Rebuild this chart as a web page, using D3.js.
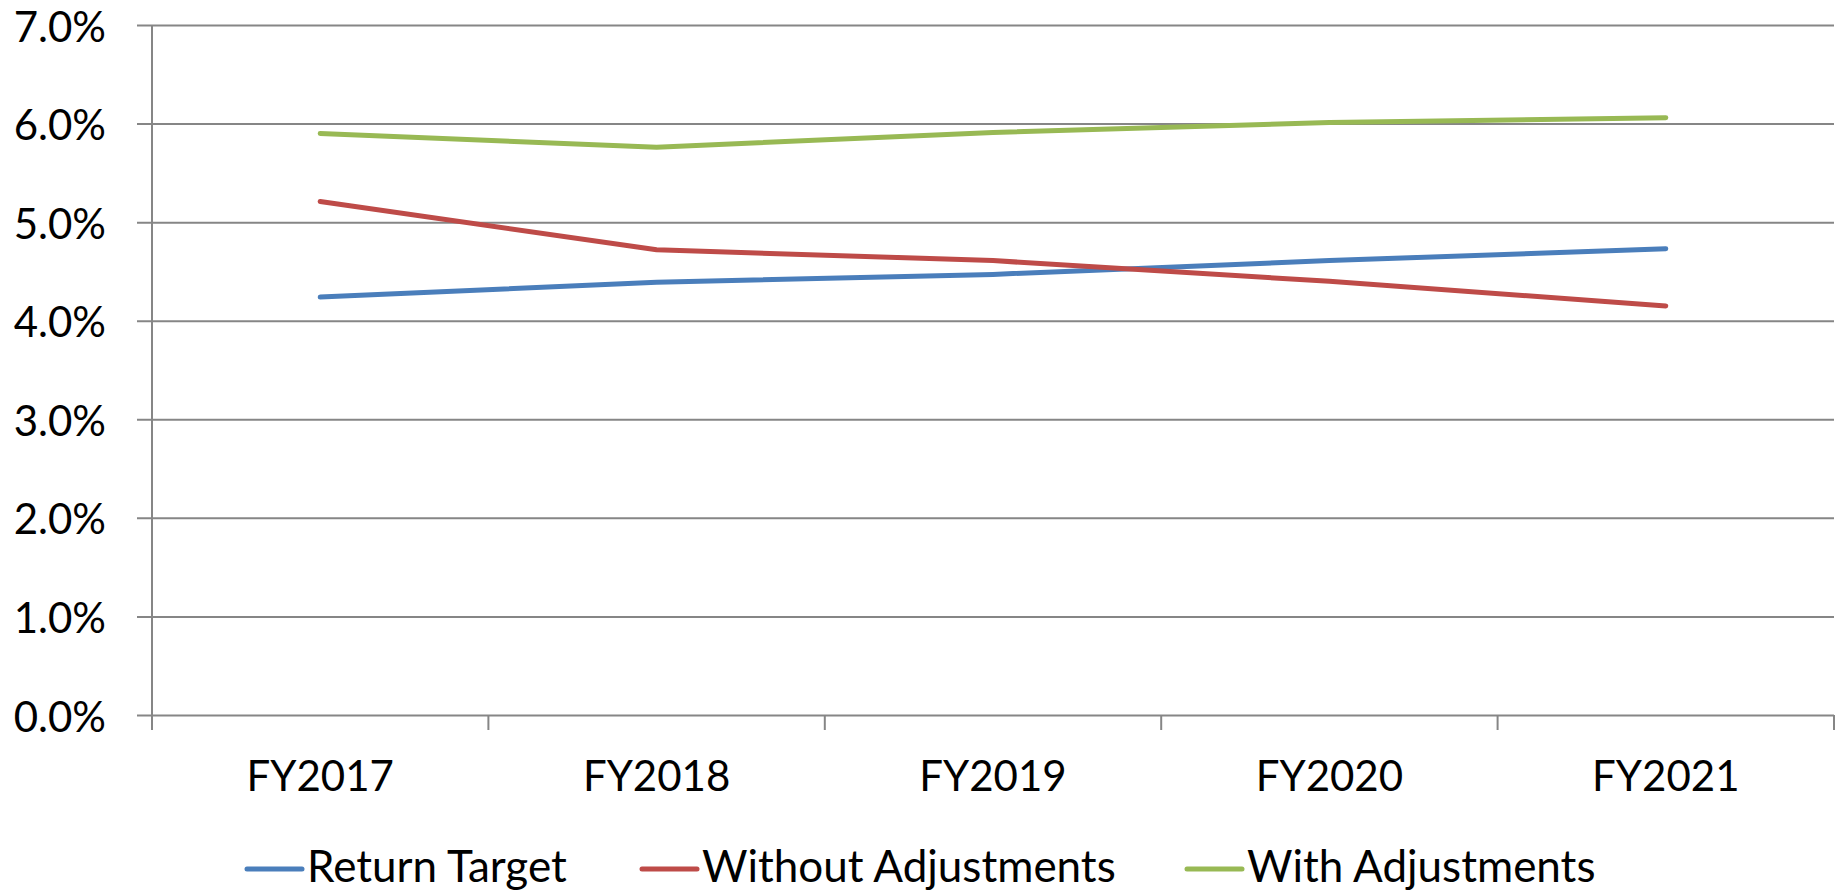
<!DOCTYPE html>
<html>
<head>
<meta charset="utf-8">
<script src="https://cdn.jsdelivr.net/npm/d3@7"></script>
<style>
  html, body { margin: 0; padding: 0; background: #fff; }
  svg { display: block; }
  text { font-family: Lato, "Open Sans", sans-serif; fill: #000; }
</style>
</head>
<body>
<svg id="chart" width="1835" height="893"></svg>
<script>
// Fiscal years on the category axis
const years = ["FY2017", "FY2018", "FY2019", "FY2020", "FY2021"];

// Rates in percent
const returnTarget       = [4.24, 4.39, 4.47, 4.61, 4.73];
const withoutAdjustments = [5.21, 4.72, 4.61, 4.40, 4.15];
const withAdjustments    = [5.90, 5.76, 5.91, 6.01, 6.06];

const seriesNames  = ["Return Target", "Without Adjustments", "With Adjustments"];
const seriesColors = ["#4A7EBB", "#BE4B48", "#98B954"];

// Value axis ticks (percent)
const yTicks = [0, 1, 2, 3, 4, 5, 6, 7];

const series = [returnTarget, withoutAdjustments, withAdjustments].map((values, i) => ({
  name: seriesNames[i],
  color: seriesColors[i],
  values: values
}));

const svg = d3.select("#chart");
const W = 1835, H = 893;
const m = { left: 152, right: 1, top: 25, bottom: 178 };
const FONT = 42;
const LEGEND_FONT = 44;
const GRID = "#868686";

const x = d3.scaleBand().domain(years).range([m.left, W - m.right]).padding(0);
const y = d3.scaleLinear().domain([0, 7]).range([H - m.bottom, m.top]);
const cx = d => x(d) + x.bandwidth() / 2;

// Horizontal gridlines with left tick stubs
const yAxis = d3.axisLeft(y)
  .tickValues(yTicks)
  .tickSize(-(W - m.right - m.left))
  .tickSizeOuter(0)
  .tickFormat(d => d3.format(".1f")(d) + "%")
  .tickPadding(0);

const gy = svg.append("g")
  .attr("transform", `translate(${m.left},0)`)
  .call(yAxis);
gy.select(".domain").remove();
gy.selectAll(".tick line")
  .attr("x1", -15)
  .attr("stroke", GRID)
  .attr("stroke-width", 2);
gy.selectAll(".tick text")
  .attr("x", 106 - m.left)
  .attr("dy", null)
  .attr("dominant-baseline", "central")
  .attr("text-anchor", "end")
  .style("font-size", FONT + "px")
  .style("font-family", "Lato, sans-serif")
  .attr("fill", "#000");

// Category axis: tick marks between categories below the zero line
const gx = svg.append("g").attr("transform", `translate(0,${y(0)})`);
const boundaries = years.map(d => x(d)).concat([x(years[years.length - 1]) + x.bandwidth()]);
gx.selectAll("line.tick")
  .data(boundaries)
  .join("line")
  .attr("class", "tick")
  .attr("x1", d => d).attr("x2", d => d)
  .attr("y1", 0).attr("y2", 15)
  .attr("stroke", GRID).attr("stroke-width", 2);
gx.selectAll("text")
  .data(years)
  .join("text")
  .attr("x", d => cx(d))
  .attr("y", 76)
  .attr("text-anchor", "middle")
  .style("font-size", FONT + "px")
  .text(d => d);

// Vertical value axis line
svg.append("line")
  .attr("x1", m.left).attr("x2", m.left)
  .attr("y1", y(7)).attr("y2", y(0) + 15)
  .attr("stroke", GRID).attr("stroke-width", 2);

// Series lines
const line = d3.line()
  .x((v, i) => cx(years[i]))
  .y(v => y(v));

svg.append("g")
  .selectAll("path")
  .data(series)
  .join("path")
  .attr("d", s => line(s.values))
  .attr("fill", "none")
  .attr("stroke", s => s.color)
  .attr("stroke-width", 5)
  .attr("stroke-linecap", "round")
  .attr("stroke-linejoin", "round");

// Legend along the bottom
const legendStarts = [247, 642, 1187];
const legend = svg.append("g").attr("transform", `translate(0,869)`);
const items = legend.selectAll("g")
  .data(series)
  .join("g")
  .attr("transform", (s, i) => `translate(${legendStarts[i]},0)`);
items.append("line")
  .attr("x1", 0).attr("x2", 55)
  .attr("y1", 0).attr("y2", 0)
  .attr("stroke", s => s.color)
  .attr("stroke-width", 5)
  .attr("stroke-linecap", "round");
items.append("text")
  .attr("x", 60)
  .attr("y", 13)
  .style("font-size", LEGEND_FONT + "px")
  .text(s => s.name);
</script>
</body>
</html>
